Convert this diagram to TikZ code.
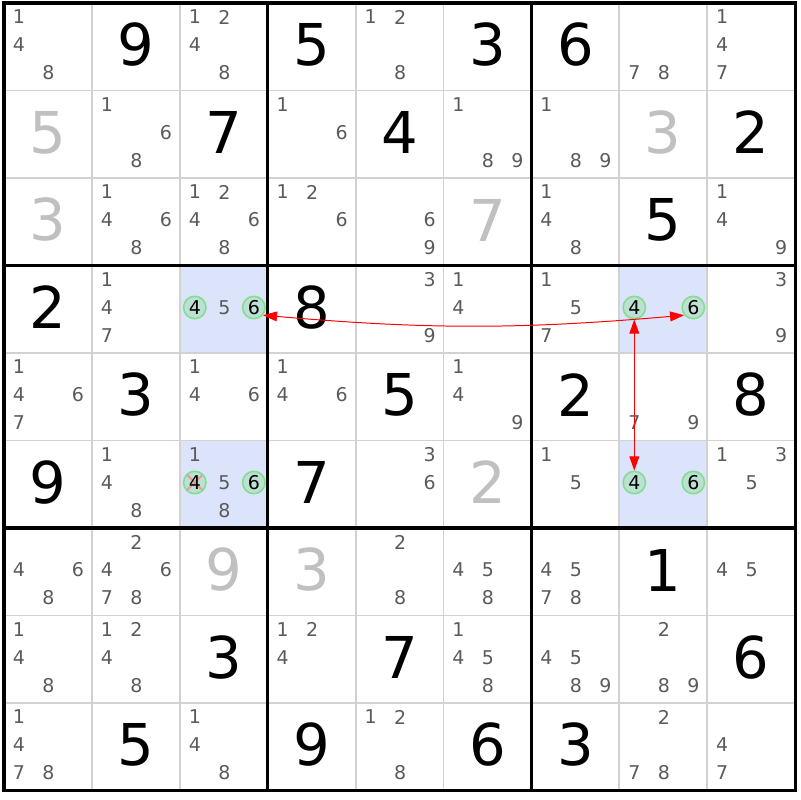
\documentclass[tikz,border=0pt]{standalone}
\usepackage{fontspec}
\setmainfont{DejaVu Sans}
\usetikzlibrary{arrows.meta}
\definecolor{cellblue}{RGB}{219,228,250}
\definecolor{gridgray}{RGB}{210,210,210}
\definecolor{candgray}{RGB}{90,90,90}
\definecolor{solvedgray}{RGB}{192,192,192}
\definecolor{pickline}{RGB}{128,222,140}
\definecolor{pickfill}{RGB}{188,225,211}
\definecolor{strike}{RGB}{244,150,150}
\tikzstyle{given}=[font=\fontsize{41}{41}\selectfont, text=black, inner sep=0pt]
\tikzstyle{solved}=[given, text=solvedgray]
\tikzstyle{cand}=[font=\fontsize{13.5}{14}\selectfont, text=candgray, inner sep=0pt]
\tikzstyle{pick}=[cand, text=black, circle, draw=pickline, fill=pickfill, line width=1.1pt, minimum size=0.56cm]
\tikzstyle{struck}=[path picture={\draw[strike, line width=1.4pt] (path picture bounding box.north west) -- (path picture bounding box.south east) (path picture bounding box.north east) -- (path picture bounding box.south west);}]
\tikzstyle{minor line}=[gridgray, line width=1.4pt]
\tikzstyle{box line}=[black, line width=2.2pt]
\tikzstyle{link}=[red, line width=0.7pt, {Triangle[length=10pt,width=7pt]}-{Triangle[length=10pt,width=7pt]}]

\begin{document}
\begin{tikzpicture}[x=0.025cm, y=-0.025cm]
      \useasboundingbox (0, 0) rectangle (800, 800);
      \foreach \r/\c in {4/3, 6/3, 4/8, 6/8}
        \fill[cellblue] ({4+(\c-1)*87.9}, {3+(\r-1)*87.5}) rectangle ++(87.9, 87.5);
      \foreach \k in {1, 2, 4, 5, 7, 8} {
        \draw[minor line] ({4+\k*87.9}, 3) -- ({4+\k*87.9}, 790.5);
        \draw[minor line] (4, {3+\k*87.5}) -- (795.1, {3+\k*87.5});
      }
      \foreach \k in {3, 6} {
        \draw[box line] ({4+\k*87.9}, 3) -- ({4+\k*87.9}, 790.5);
        \draw[box line] (4, {3+\k*87.5}) -- (795.1, {3+\k*87.5});
      }
      \draw[box line] (4, 3) rectangle (795.1, 790.5);
      \foreach \r/\c/\v in {1/2/9, 1/4/5, 1/6/3, 1/7/6, 2/3/7, 2/5/4, 2/9/2, 3/8/5,
          4/1/2, 4/4/8, 5/2/3, 5/5/5, 5/7/2, 5/9/8, 6/1/9, 6/4/7, 7/8/1,
          8/3/3, 8/5/7, 8/9/6, 9/2/5, 9/4/9, 9/6/6, 9/7/3}
        \node[given] (g\r\c) at ({4+(\c-0.5)*87.9}, {3+(\r-1)*87.5+42}) {\v};
      \foreach \r/\c/\v in {2/1/5, 2/8/3, 3/1/3, 3/6/7, 6/6/2, 7/3/9, 7/4/3}
        \node[solved] (s\r\c) at ({4+(\c-0.5)*87.9}, {3+(\r-1)*87.5+42}) {\v};
      \foreach \r/\c/\ds in {1/1/{1,4,8}, 1/3/{1,2,4,8}, 1/5/{1,2,8}, 1/8/{7,8}, 1/9/{1,4,7},
          2/2/{1,6,8}, 2/4/{1,6}, 2/6/{1,8,9}, 2/7/{1,8,9},
          3/2/{1,4,6,8}, 3/3/{1,2,4,6,8}, 3/4/{1,2,6}, 3/5/{6,9}, 3/7/{1,4,8}, 3/9/{1,4,9},
          4/2/{1,4,7}, 4/3/{5}, 4/5/{3,9}, 4/6/{1,4}, 4/7/{1,5,7}, 4/9/{3,9},
          5/1/{1,4,6,7}, 5/3/{1,4,6}, 5/4/{1,4,6}, 5/6/{1,4,9}, 5/8/{7,9},
          6/2/{1,4,8}, 6/3/{1,5,8}, 6/5/{3,6}, 6/7/{1,5}, 6/9/{1,3,5},
          7/1/{4,6,8}, 7/2/{2,4,6,7,8}, 7/5/{2,8}, 7/6/{4,5,8}, 7/7/{4,5,7,8}, 7/9/{4,5},
          8/1/{1,4,8}, 8/2/{1,2,4,8}, 8/4/{1,2,4}, 8/6/{1,4,5,8}, 8/7/{4,5,8,9}, 8/8/{2,8,9},
          9/1/{1,4,7,8}, 9/3/{1,4,8}, 9/5/{1,2,8}, 9/8/{2,7,8}, 9/9/{4,7}}
        \foreach \d in \ds {
          \pgfmathsetmacro\px{4+(\c-1)*87.9+15+mod(\d-1,3)*29.5}
          \pgfmathsetmacro\py{3+(\r-1)*87.5+14+div(\d-1,3)*28}
          \node[cand] (n\r\c\d) at (\px, \py) {\d};
        }
      \foreach \r/\c/\d in {4/3/4, 4/3/6, 4/8/4, 4/8/6, 6/3/6, 6/8/4, 6/8/6} {
        \pgfmathsetmacro\px{4+(\c-1)*87.9+15+mod(\d-1,3)*29.5}
        \pgfmathsetmacro\py{3+(\r-1)*87.5+14+div(\d-1,3)*28}
        \node[pick] (p\r\c\d) at (\px, \py) {\d};
      }
      \node[pick, struck] (p634) at ({4+2*87.9+15}, {3+5*87.5+42}) {4};
      \draw[link] (p436.-40) to[bend right=5] (p486.220);
      \draw[link] (p484) -- (p684);
    \end{tikzpicture}
\end{document}
